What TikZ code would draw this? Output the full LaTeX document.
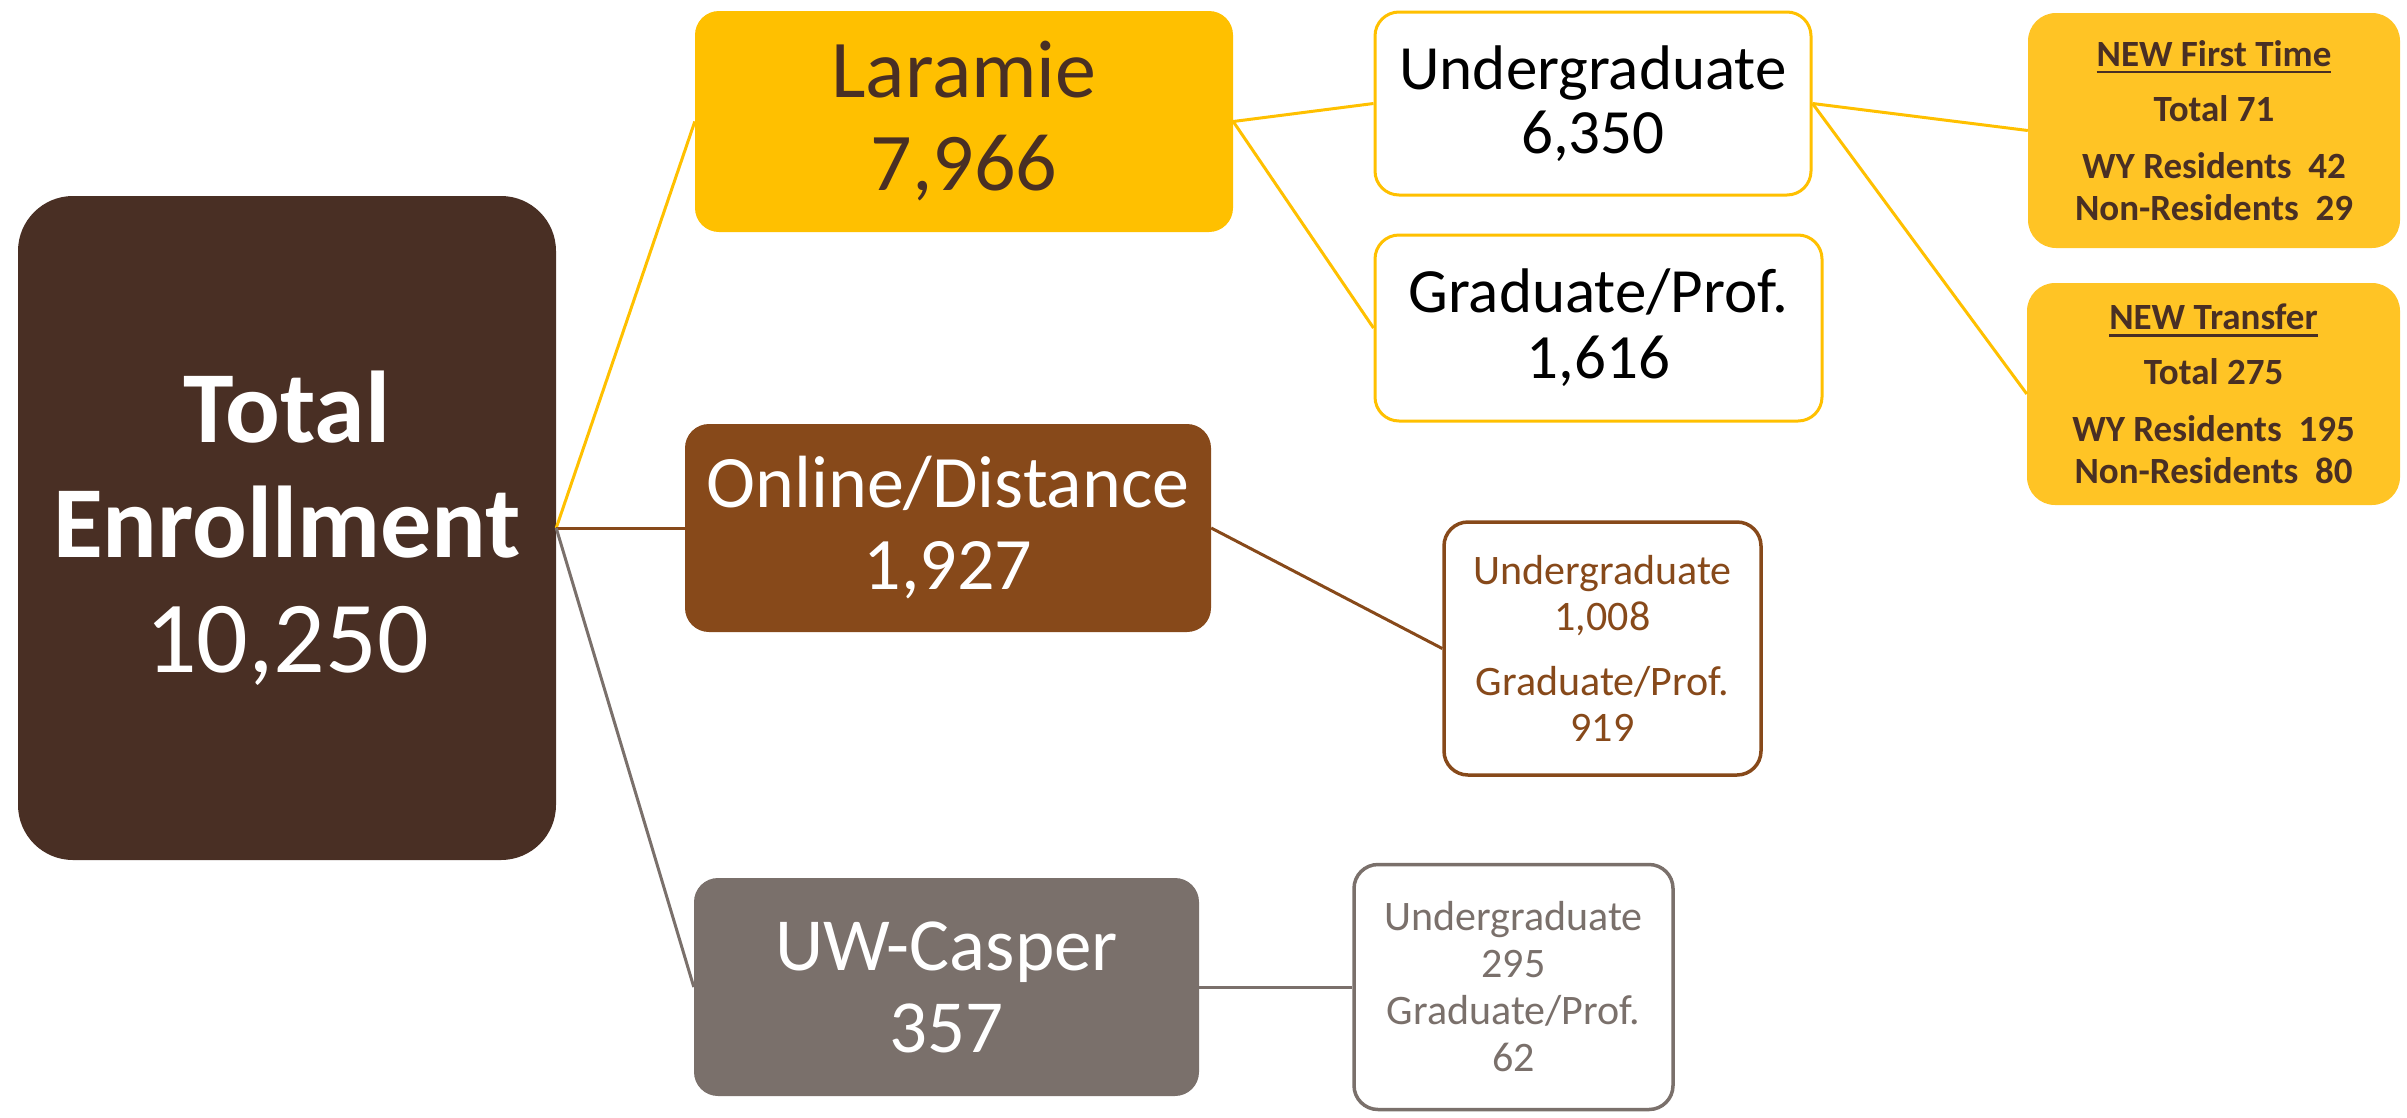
\documentclass[tikz,border=0pt]{standalone}
\usepackage{fontspec}
\setmainfont{Carlito}
\definecolor{uwbrown}{HTML}{492F24}
\definecolor{uwgold}{HTML}{FFC000}
\definecolor{newgold}{HTML}{FFC425}
\definecolor{onbrown}{HTML}{87491A}
\definecolor{casgray}{HTML}{7A706B}
\newcommand\newul[1]{\vtop{\hbox{#1}\kern4pt\hrule height 2.7pt}}
\begin{document}
\begin{tikzpicture}[x=1pt,y=-1pt,
    box/.style={rounded corners=24pt,inner sep=0pt,align=center},
    main/.style={box,text=white},
    sub/.style={box,draw,fill=white,line width=3.5pt},
    new/.style={box,fill=newgold,text=uwbrown,rounded corners=28pt,
      font=\bfseries\fontsize{37}{42}\selectfont}]
  \useasboundingbox (0,0) rectangle (2407,1117);
  \draw
    (287,528) node[main,fill=uwbrown,rounded corners=55pt,minimum width=538pt,minimum height=664pt,
      font=\fontsize{102}{115}\selectfont] (total){\textbf{Total}\\\textbf{Enrollment}\\10,250}
    (964,121.5) node[main,fill=uwgold,text=uwbrown,minimum width=538pt,minimum height=221pt,
      font=\fontsize{82}{93}\selectfont] (laramie){Laramie\\7,966}
    (948,528) node[main,fill=onbrown,minimum width=526pt,minimum height=208pt,
      font=\fontsize{74}{82}\selectfont] (online){Online/Distance\\1,927}
    (946.5,987) node[main,fill=casgray,minimum width=505pt,minimum height=218pt,
      font=\fontsize{75}{82}\selectfont] (casper){UW-Casper\\357}
    (1593,103.5) node[sub,draw=uwgold,line width=3pt,minimum width=436pt,minimum height=183pt,
      font=\fontsize{63}{64}\selectfont] (undergrad){Undergraduate\\6,350}
    (1598.5,328) node[sub,draw=uwgold,line width=3pt,minimum width=447pt,minimum height=186pt,
      font=\fontsize{63}{66}\selectfont] (grad){Graduate/Prof.\\1,616}
    (1602.5,648.5) node[sub,draw=onbrown,text=onbrown,minimum width=317pt,minimum height=253pt,
      font=\fontsize{42}{46}\selectfont] (onsub){Undergraduate\\1,008\\[19pt]Graduate/Prof.\\919}
    (1513.5,987) node[sub,draw=casgray,text=casgray,minimum width=319pt,minimum height=245pt,
      font=\fontsize{42}{47}\selectfont] (cassub){Undergraduate\\295\\Graduate/Prof.\\62}
    (2214,130.5) node[new,minimum width=372pt,minimum height=235pt] (firsttime)
      {\newul{NEW First Time}\\[13pt]Total 71\\[15pt]WY Residents~~42\\Non-Residents~~29}
    (2213.5,394) node[new,minimum width=373pt,minimum height=222pt] (transfer)
      {\newul{NEW Transfer}\\[13pt]Total 275\\[15pt]WY Residents~~195\\Non-Residents~~80};
  \begin{scope}[line width=3pt]
    \draw[uwgold] (total.east) to (laramie.west);
    \draw[onbrown] (total.east) to (online.west);
    \draw[casgray] (total.east) to (casper.west);
    \draw[uwgold] (laramie.east) to (undergrad.west);
    \draw[uwgold] (laramie.east) to (grad.west);
    \draw[onbrown] (online.east) to (onsub.west);
    \draw[casgray] (casper.east) to (cassub.west);
    \draw[uwgold] (undergrad.east) to (firsttime.west);
    \draw[uwgold] (undergrad.east) to (transfer.west);
  \end{scope}
\end{tikzpicture}
\end{document}
